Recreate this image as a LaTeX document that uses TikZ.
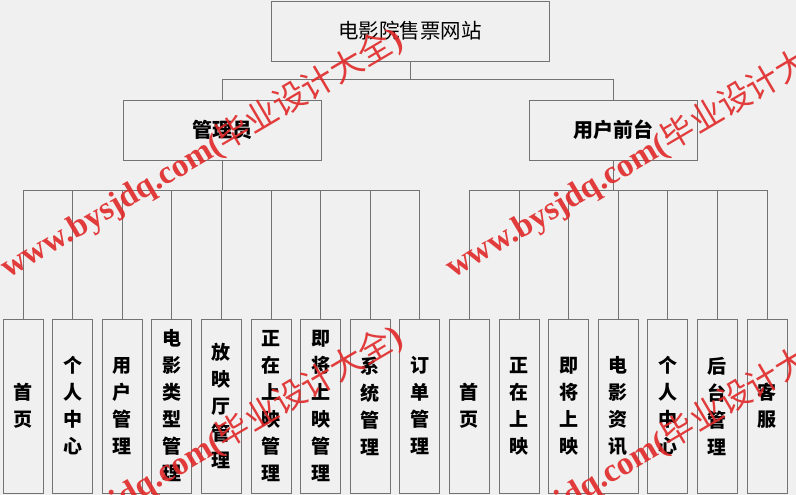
\documentclass[tikz,border=0pt]{standalone}
\usepackage{fontspec}
\setmainfont{Noto Sans CJK SC}
\newfontfamily\cjk{Noto Sans CJK SC}
\newfontfamily\wmlat{Liberation Serif}
\begin{document}
\begin{tikzpicture}[x=1pt,y=-1pt,
  box/.style={draw=black!55,line width=0.8pt,fill=bgc,inner sep=0pt},
  link/.style={draw=black!55,line width=0.8pt},
  leaf/.style={box,minimum width=40pt,minimum height=174pt},
  leaftext/.style={font=\fontsize{19pt}{27pt}\selectfont\bfseries,align=center,inner sep=0pt},
  wm/.style={text=wmred,opacity=0.9,rotate=30.5,anchor=base west,inner sep=0pt,font=\fontsize{33pt}{33pt}\selectfont\bfseries}
]
\definecolor{bgc}{HTML}{F0F0F0}
\definecolor{wmred}{HTML}{E02828}
\useasboundingbox (0,0) rectangle (796,495);
\clip (0,0) rectangle (796,495);
\fill[bgc] (0,0) rectangle (796,495);

\node[box,minimum width=278pt,minimum height=60pt,font=\fontsize{20.5pt}{20.5pt}\selectfont] (root) at (410,31) {电影院售票网站};
\node[box,minimum width=198pt,minimum height=60pt,font=\fontsize{20pt}{20pt}\selectfont\bfseries] (admin) at (222,130) {管理员};
\node[box,minimum width=168pt,minimum height=60pt,font=\fontsize{20pt}{20pt}\selectfont\bfseries] (user) at (613,130) {用户前台};

\coordinate (rj) at (410,79);
\draw[link] (root.south) -- (rj);
\draw[link] (rj) -| (admin.north);
\draw[link] (rj) -| (user.north);

\foreach \i/\t in {0/{首\\页},1/{个\\人\\中\\心},2/{用\\户\\管\\理},3/{电\\影\\类\\型\\管\\理},4/{放\\映\\厅\\管\\理},5/{正\\在\\上\\映\\管\\理},6/{即\\将\\上\\映\\管\\理},7/{系\\统\\管\\理},8/{订\\单\\管\\理},
  9/{首\\页},10/{正\\在\\上\\映},11/{即\\将\\上\\映},12/{电\\影\\资\\讯},13/{个\\人\\中\\心},14/{后\\台\\管\\理},15/{客\\服}}{
  \node[leaf] (c\i) at ({23+49.6*\i},406) {};
  \node[leaftext] (t\i) at (c\i.center) {\t};
}
\coordinate (aj) at (222,190);
\coordinate (uj) at (613,190);
\draw[link] (admin.south) -- (aj);
\draw[link] (user.south) -- (uj);
\foreach \i in {0,...,8}{\draw[link] (aj) -| (c\i.north);}
\foreach \i in {9,...,15}{\draw[link] (uj) -| (c\i.north);}

\foreach \p/\q in {8/279,453/279,8/577,453/577}{
  \node[wm] (w\p\q) at (\p,\q) {{\wmlat www.bysjdq.com(}{\cjk\mdseries 毕业设计大全}{\wmlat )}};
}
\end{tikzpicture}
\end{document}
